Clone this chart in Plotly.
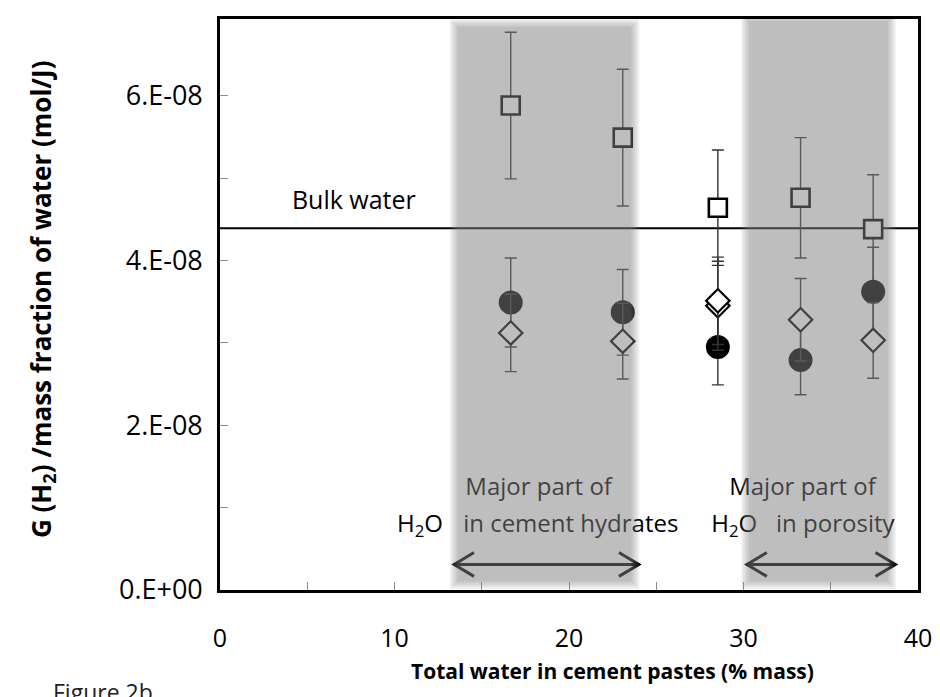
import plotly.graph_objects as go

# ---------------- data ----------------
x_water = [16.66, 23.08, 28.53, 33.27, 37.43]          # total water, % mass
g_square = [5.88e-8, 5.49e-8, 4.64e-8, 4.76e-8, 4.38e-8]
g_square_err = [0.89e-8, 0.83e-8, 0.70e-8, 0.73e-8, 0.66e-8]
g_circle = [3.49e-8, 3.37e-8, 2.95e-8, 2.79e-8, 3.62e-8]
g_circle_err = [0.54e-8, 0.52e-8, 0.46e-8, 0.42e-8, 0.54e-8]
g_diamond = [3.12e-8, 3.02e-8, 3.51e-8, 3.28e-8, 3.03e-8]
g_diamond_err = [0.47e-8, 0.46e-8, 0.53e-8, 0.50e-8, 0.46e-8]
x_diamond_extra = [28.53]
g_diamond_extra = [3.45e-8]
g_diamond_extra_err = [0.54e-8]
bulk_water = 4.39e-8

band_ranges = [(13.4, 23.8), (30.1, 38.5)]     # shaded regions (x)
band_tops = [6.88e-8, 6.95e-8]
arrow_ranges = [(13.42, 24.0), (30.2, 38.7)]
arrow_level = 0.31e-8

x_tick_vals = [0, 10, 20, 30, 40]
x_tick_text = ["0", "10", "20", "30", "40"]
y_tick_vals = [0, 2e-8, 4e-8, 6e-8]
y_tick_text = ["0.E+00", "2.E-08", "4.E-08", "6.E-08"]
y_minor_vals = [1e-8, 3e-8, 5e-8]
x_minor_vals = [5, 15, 25, 35]

# ---------------- layout geometry ----------------
BODY = 8                      # default page margin around the plot div
W, H = 940 - BODY, 697 - BODY
M_L, M_T = 212, 8
plot_w, plot_h = 704, 574
M_R = W - M_L - plot_w
M_B = H - M_T - plot_h
X_RANGE = [0, 40]
Y_RANGE = [0, 6.93e-8]
ux = (X_RANGE[1] - X_RANGE[0]) / plot_w   # data units per pixel
uy = (Y_RANGE[1] - Y_RANGE[0]) / plot_h


def sx_paper(sx):
    return (sx - BODY - M_L) / plot_w


def sy_paper(sy):
    return (M_T + plot_h - (sy - BODY)) / plot_h


FONT = "Open Sans"

fig = go.Figure()

# bulk water line
fig.add_trace(go.Scatter(
    x=X_RANGE, y=[bulk_water, bulk_water], mode="lines",
    line=dict(color="black", width=2), hoverinfo="skip", showlegend=False))

# text labels inside plot (drawn under the shaded overlay)
labels = [
    ("Bulk water", 7.67, 4.70e-8, 25),
    ("Major part of", 18.26, 1.22e-8, 24),
    ("H<sub>2</sub>O", 11.46, 0.78e-8, 24),
    ("in cement hydrates", 20.1, 0.78e-8, 24),
    ("Major part of", 33.38, 1.22e-8, 24),
    ("H<sub>2</sub>O", 29.47, 0.78e-8, 24),
    ("in porosity", 35.26, 0.78e-8, 24),
]
for txt, lx, ly, fs in labels:
    fig.add_trace(go.Scatter(
        x=[lx], y=[ly], mode="text", text=[txt], textposition="middle center",
        textfont=dict(family=FONT, size=fs, color="black"),
        hoverinfo="skip", showlegend=False, cliponaxis=False))

# double-headed arrows
ax, ay = [], []
dx, dy = 20 * ux, 12 * uy
for a0, a1 in arrow_ranges:
    ax += [a0, a1, None, a0 + dx, a0, a0 + dx, None, a1 - dx, a1, a1 - dx, None]
    ay += [arrow_level, arrow_level, None,
           arrow_level + dy, arrow_level, arrow_level - dy, None,
           arrow_level + dy, arrow_level, arrow_level - dy, None]
fig.add_trace(go.Scatter(x=ax, y=ay, mode="lines",
                         line=dict(color="black", width=3),
                         hoverinfo="skip", showlegend=False))

err_style = dict(type="data", color="#333333", thickness=1.4, width=6)

# squares
fig.add_trace(go.Scatter(
    x=x_water, y=g_square, mode="markers",
    error_y=dict(array=g_square_err, **err_style),
    marker=dict(symbol="square", size=18, color="white",
                line=dict(color="black", width=2.6)),
    showlegend=False))

# circles
fig.add_trace(go.Scatter(
    x=x_water, y=g_circle, mode="markers",
    error_y=dict(array=g_circle_err, **err_style),
    marker=dict(symbol="circle", size=24, color="black",
                line=dict(color="black", width=0)),
    showlegend=False))

# diamonds
fig.add_trace(go.Scatter(
    x=x_diamond_extra, y=g_diamond_extra, mode="markers",
    error_y=dict(array=g_diamond_extra_err, **err_style),
    marker=dict(symbol="diamond", size=18, color="white",
                line=dict(color="black", width=2.2)),
    showlegend=False))
fig.add_trace(go.Scatter(
    x=x_water, y=g_diamond, mode="markers",
    error_y=dict(array=g_diamond_err, **err_style),
    marker=dict(symbol="diamond", size=18, color="white",
                line=dict(color="black", width=2.2)),
    showlegend=False))

# shaded bands (semi-transparent overlay above the data, soft edges)
steps = [(4, 0.13), (2, 0.13), (0, 0.13), (-2, 0.13), (-4, 0.14)]
for (b0, b1), btop in zip(band_ranges, band_tops):
    for e, alpha in steps:
        fig.add_shape(type="rect", xref="x", yref="y",
                      x0=b0 - e * ux, x1=b1 + e * ux,
                      y0=Y_RANGE[0] + (5 - e) * uy, y1=btop + e * uy,
                      fillcolor=f"rgba(128,128,128,{alpha})",
                      line=dict(width=0), layer="above")

axis_common = dict(showgrid=False, zeroline=False, showline=True, mirror=True,
                   linecolor="black", linewidth=2.6,
                   ticks="inside", ticklen=8, tickcolor="#8a8a8a", tickwidth=1.2)

fig.update_layout(
    width=W, height=H,
    margin=dict(l=M_L, r=M_R, t=M_T, b=M_B),
    paper_bgcolor="white", plot_bgcolor="white",
    font=dict(family=FONT, color="black"),
    xaxis=dict(range=X_RANGE, tickmode="array", tickvals=x_tick_vals,
               ticktext=x_tick_text, ticklabelstandoff=24,
               tickfont=dict(family=FONT, size=25, color="black"),
               minor=dict(tickmode="array", tickvals=x_minor_vals, ticks="inside",
                          ticklen=8, tickcolor="#8a8a8a", tickwidth=1.2),
               **axis_common),
    yaxis=dict(range=Y_RANGE, tickmode="array", tickvals=y_tick_vals,
               ticktext=y_tick_text, ticklabelstandoff=9,
               tickfont=dict(family=FONT, size=27, color="black"),
               minor=dict(tickmode="array", tickvals=y_minor_vals, ticks="inside",
                          ticklen=8, tickcolor="#8a8a8a", tickwidth=1.2),
               **axis_common),
    showlegend=False,
)

# axis titles and figure caption
fig.add_annotation(text="<b>Total water in cement pastes (% mass)</b>",
                   xref="paper", yref="paper", x=sx_paper(616), y=sy_paper(671),
                   xanchor="center", yanchor="middle", showarrow=False,
                   font=dict(family=FONT, size=21, color="black"))
fig.add_annotation(text="<b>G (H<sub>2</sub>) /mass fraction of water (mol/J)</b>",
                   xref="paper", yref="paper", x=sx_paper(40), y=sy_paper(298),
                   textangle=-90, xanchor="center", yanchor="middle",
                   showarrow=False,
                   font=dict(family=FONT, size=26, color="black"))
fig.add_annotation(text="Figure 2b", xref="paper", yref="paper",
                   x=sx_paper(50), y=sy_paper(674),
                   xanchor="left", yanchor="top", showarrow=False,
                   font=dict(family=FONT, size=23, color="#222222"))

fig.write_html("out.html")
